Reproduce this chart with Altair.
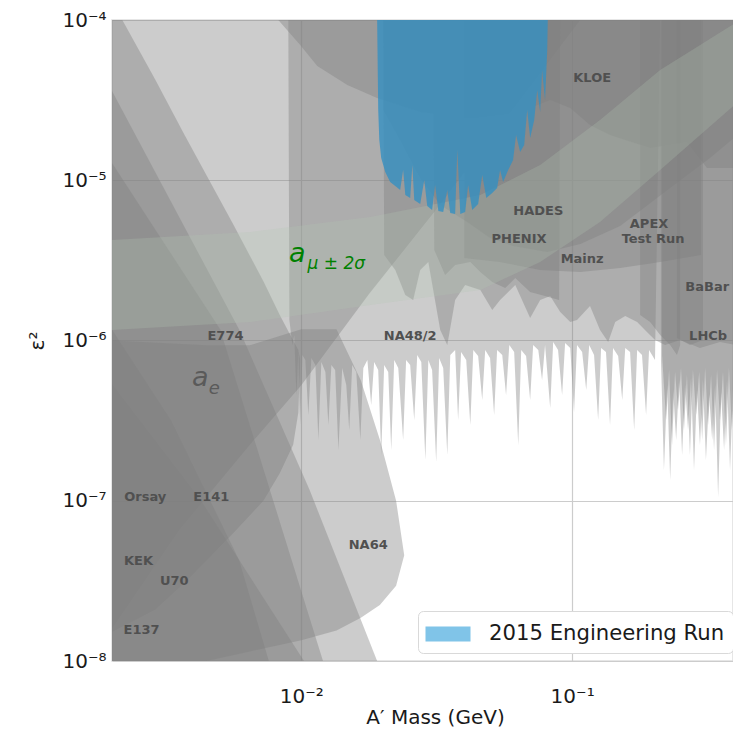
import altair as alt
import pandas as pd

# All values are log10(mass / GeV) and log10(epsilon^2).
TOP = -4.0
BOT = -8.2

AE_M  = [-2.70, -2.45, -2.19, -2.00, -1.75, -1.51, -0.97]
AE_LO = [-7.80, -7.18, -6.65, -6.28, -5.71, -5.20, -4.00]

E774_M  = [-2.70, -2.54, -2.43, -2.25, -2.14, -2.08, -2.03, -2.011, -2.004]
E774_HI = [-3.88, -4.37, -4.72, -5.28, -5.63, -5.84, -6.00, -6.06, -6.12]
E774_LO = [-7.82, -7.68, -7.51, -7.20, -7.00, -6.83, -6.65, -6.45, -6.12]

E141_M  = [-2.70, -2.23, -1.97, -1.72]
E141_HI = [-4.44, -5.93, -6.93, -8.00]

KEK_M  = [-2.70, -2.30, -1.92]
KEK_HI = [-4.89, -5.93, -8.00]

ORSAY_M  = [-2.70, -2.37, -1.99]
ORSAY_HI = [-6.27, -7.00, -8.00]

E137_M  = [-2.70, -2.48, -2.23, -2.12]
E137_HI = [-5.93, -6.50, -7.37, -8.00]

NA64_M  = [-2.70, -2.35, -2.19, -2.00, -1.87, -1.78, -1.71, -1.65, -1.62]
NA64_HI = [-6.00, -6.03, -6.03, -5.93, -5.93, -6.25, -6.62, -7.00, -7.34]
NA64_LO = [-8.20, -8.00, -7.94, -7.87, -7.81, -7.73, -7.65, -7.53, -7.34]

NA48_M = [-2.048, -2.044, -2.033, -2.026, -2.018, -2.011, -2.004, -1.996, -1.985, -1.974,
          -1.963, -1.948, -1.937, -1.926, -1.911, -1.900, -1.889, -1.875, -1.863, -1.849,
          -1.834, -1.823, -1.812, -1.797, -1.782, -1.771, -1.756, -1.742, -1.731, -1.716,
          -1.705, -1.694, -1.679, -1.668, -1.657, -1.642, -1.624, -1.613, -1.598, -1.583,
          -1.572, -1.557, -1.542, -1.531, -1.517, -1.502, -1.491, -1.476, -1.461, -1.450,
          -1.432, -1.421, -1.410, -1.391, -1.376, -1.365, -1.347, -1.332, -1.321, -1.303,
          -1.288, -1.277, -1.258, -1.244, -1.232, -1.214, -1.199, -1.188, -1.170, -1.155,
          -1.144, -1.125, -1.111, -1.100, -1.081, -1.070, -1.052, -1.037, -1.026, -1.007,
          -0.993, -0.982, -0.963, -0.948, -0.937, -0.919, -0.904, -0.893, -0.875, -0.860,
          -0.849, -0.830, -0.815, -0.804, -0.786, -0.771, -0.760, -0.742, -0.727, -0.716,
          -0.694, -0.675]
NA48_LO = [-4.000, -5.872, -6.028, -5.966, -6.340, -6.059, -6.527, -6.090, -6.122, -6.465,
           -6.109, -6.153, -6.621, -6.134, -6.197, -6.527, -6.153, -6.184, -6.683, -6.172,
           -6.278, -6.558, -6.153, -6.197, -6.621, -6.172, -6.122, -6.402, -6.134, -6.184,
           -6.715, -6.153, -6.197, -6.683, -6.122, -6.172, -6.621, -6.122, -6.153, -6.496,
           -6.090, -6.134, -6.746, -6.122, -6.184, -6.758, -6.109, -6.172, -6.715, -6.090,
           -6.059, -6.496, -6.072, -6.122, -6.527, -6.059, -6.097, -6.371, -6.059, -6.109,
           -6.465, -6.059, -6.090, -6.340, -6.028, -6.072, -6.652, -6.059, -6.097, -6.371,
           -6.028, -6.059, -6.246, -6.028, -6.421, -6.009, -6.059, -6.340, -6.016, -6.047,
           -6.446, -6.028, -6.072, -6.309, -6.028, -6.090, -6.496, -6.047, -6.072, -6.527,
           -6.047, -6.097, -6.371, -6.047, -6.072, -6.558, -6.059, -6.090, -6.465, -6.059,
           -6.122, -4.000]

BABAR_M  = [-1.697, -1.694, -1.653, -1.616, -1.587, -1.561, -1.531, -1.487, -1.461, -1.432,
            -1.395, -1.339, -1.295, -1.266, -1.210, -1.185, -1.155, -1.118, -1.081, -1.044,
            -1.007, -0.982, -0.934, -0.897, -0.867, -0.841, -0.804, -0.760, -0.731, -0.694,
            -0.657, -0.601, -0.528, -0.454, -0.380, -0.288]
BABAR_LO = [-4.000, -5.466, -5.560, -5.716, -5.747, -5.560, -5.510, -5.934, -6.028, -5.747,
            -5.654, -5.685, -5.810, -5.747, -5.654, -5.747, -5.860, -5.747, -5.722, -5.822,
            -5.885, -5.872, -5.785, -5.934, -6.009, -5.885, -5.847, -5.885, -5.934, -5.997,
            -6.028, -5.997, -6.047, -6.009, -6.034, -6.028]

PHENIX_M  = [-1.513, -1.509, -1.469, -1.432, -1.376, -1.339, -1.295, -1.247, -1.210, -1.155,
             -1.100, -1.048, -1.044]
PHENIX_LO = [-4.000, -5.435, -5.591, -5.529, -5.510, -5.573, -5.635, -5.672, -5.610, -5.697,
             -5.722, -5.747, -4.000]

HADES_M  = [-1.697, -1.635, -1.561, -1.487, -1.387, -1.303, -1.218, -1.092, -0.970, -0.823,
            -0.638, -0.491, -0.380, -0.288]
HADES_LO = [-4.562, -4.749, -4.986, -5.154, -5.261, -5.360, -5.410, -5.448, -5.398, -5.285,
            -5.048, -4.861, -4.705, -4.612]

KLOE_M  = [-2.085, -2.004, -1.941, -1.830, -1.720, -1.561, -1.376, -1.192, -1.081, -1.007,
           -0.934, -0.860, -0.712, -0.576, -0.502, -0.406, -0.362, -0.288]
KLOE_LO = [-4.000, -4.156, -4.287, -4.406, -4.487, -4.574, -4.612, -4.574, -4.499, -4.549,
           -4.655, -4.718, -4.799, -4.761, -4.924, -4.924, -4.562, -4.312]

MAINZ_M  = [-1.398, -1.266, -1.118, -0.970, -0.823, -0.675, -0.524]
MAINZ_LO = [-5.485, -5.510, -5.560, -5.573, -5.548, -5.510, -5.466]

APEX_M  = [-0.749, -0.712, -0.675, -0.638, -0.613, -0.601]
APEX_LO = [-5.841, -5.885, -5.966, -6.028, -6.090, -6.028]

STRIP_M  = [-0.613, -0.565, -0.517]
STRIP_LO = [-5.984, -6.028, -5.997]

LHCB_M  = [-0.672, -0.661, -0.649, -0.638, -0.627, -0.616, -0.605, -0.594, -0.583, -0.572,
           -0.561, -0.550, -0.539, -0.528, -0.517, -0.506, -0.494, -0.483, -0.472, -0.461,
           -0.450, -0.439, -0.428, -0.417, -0.406, -0.395, -0.384, -0.373, -0.362, -0.288]
LHCB_LO = [-6.122, -6.808, -6.278, -6.870, -6.309, -6.621, -6.246, -6.715, -6.278, -6.558,
           -6.234, -6.808, -6.309, -6.652, -6.246, -6.746, -6.340, -6.621, -6.278, -6.977,
           -6.321, -6.683, -6.246, -6.808, -6.296, -6.964, -6.340, -6.621, -6.278, -6.309]

LHCB2_M  = [-0.668, -0.653, -0.642, -0.631, -0.620, -0.609, -0.598, -0.587, -0.576, -0.565,
            -0.554, -0.542, -0.531, -0.520, -0.509, -0.498, -0.487, -0.476, -0.465, -0.454,
            -0.443, -0.432, -0.421, -0.410, -0.399, -0.380]
LHCB2_LO = [-6.090, -6.496, -6.184, -6.652, -6.197, -6.434, -6.172, -6.558, -6.215, -6.715,
            -6.184, -6.465, -6.197, -6.621, -6.172, -6.527, -6.215, -6.683, -6.184, -6.496,
            -6.197, -6.652, -6.172, -6.558, -6.215, -6.246]

HPS_M  = [-1.720, -1.716, -1.712, -1.705, -1.690, -1.672, -1.653, -1.635, -1.624, -1.616,
          -1.598, -1.590, -1.583, -1.561, -1.546, -1.535, -1.517, -1.506, -1.494, -1.476,
          -1.461, -1.450, -1.432, -1.424, -1.413, -1.395, -1.384, -1.369, -1.347, -1.332,
          -1.317, -1.295, -1.277, -1.266, -1.255, -1.236, -1.218, -1.207, -1.192, -1.177,
          -1.166, -1.155, -1.140, -1.129, -1.118, -1.111, -1.100, -1.092, -1.090]
HPS_LO = [-4.000, -4.562, -4.749, -4.861, -4.949, -5.011, -5.036, -5.061, -4.936, -5.092,
          -5.111, -4.905, -5.123, -5.148, -4.998, -5.161, -5.186, -5.030, -5.192, -5.198,
          -5.061, -5.204, -5.211, -4.811, -5.211, -5.198, -5.030, -5.186, -5.148, -4.967,
          -5.111, -5.080, -5.048, -4.936, -5.011, -4.936, -4.874, -4.718, -4.824, -4.780,
          -4.562, -4.736, -4.624, -4.437, -4.574, -4.312, -4.499, -4.187, -4.000]

AMU_M  = [-2.70, -2.188, -1.745, -1.339, -1.118, -0.897, -0.675, -0.380, -0.303]
AMU_LO = [-5.934, -5.885, -5.778, -5.685, -5.510, -5.260, -4.936, -4.499, -4.406]
AMU_HI = [-5.373, -5.323, -5.229, -5.092, -4.905, -4.624, -4.312, -4.000, -3.906]

EXP_TEXT = ['KLOE', 'HADES', 'PHENIX', 'Mainz', 'APEX', 'Test Run', 'LHCb', 'NA48/2',
            'E774', 'Orsay', 'E141', 'KEK', 'U70', 'E137', 'NA64']
EXP_M = [-0.926, -1.125, -1.196, -0.963, -0.716, -0.701, -0.498, -1.598,
         -2.280, -2.576, -2.332, -2.601, -2.469, -2.590, -1.753]
EXP_E = [-4.362, -5.192, -5.367, -5.491, -5.273, -5.367, -5.972, -5.972,
         -5.972, -6.977, -6.977, -7.376, -7.501, -7.807, -7.276]
BABAR_TEXT_M, BABAR_TEXT_E = -0.582, -5.666

LEGEND_LABEL = '2015 Engineering Run'


def p(v):
    return [10 ** x for x in v]


def region(name, m, lo, hi=None):
    if hi is None:
        hi = [TOP] * len(m)
    return pd.DataFrame({'region': name, 'm': p(m), 'lo': p(lo), 'hi': p(hi)})


gray_df = pd.concat([
    region('a_e', AE_M, AE_LO),
    region('E774', E774_M, E774_LO, E774_HI),
    region('E141', E141_M, [BOT] * len(E141_M), E141_HI),
    region('KEK', KEK_M, [BOT] * len(KEK_M), KEK_HI),
    region('Orsay', ORSAY_M, [BOT] * len(ORSAY_M), ORSAY_HI),
    region('E137', E137_M, [BOT] * len(E137_M), E137_HI),
    region('NA64', NA64_M, NA64_LO, NA64_HI),
    region('NA48/2', NA48_M, NA48_LO),
    region('BaBar', BABAR_M, BABAR_LO),
    region('PHENIX', PHENIX_M, PHENIX_LO),
    region('HADES', HADES_M, HADES_LO),
    region('KLOE', KLOE_M, KLOE_LO),
    region('Mainz', MAINZ_M, MAINZ_LO),
    region('APEX', APEX_M, APEX_LO),
    region('strip', STRIP_M, STRIP_LO),
    region('LHCb', LHCB_M, LHCB_LO),
    region('LHCb2', LHCB2_M, LHCB2_LO),
], ignore_index=True)

amu_df = region('amu', AMU_M, AMU_LO, AMU_HI)
hps_df = region('hps', HPS_M, HPS_LO)
# one point outside the plotted range: only feeds the legend entry
legend_df = pd.DataFrame({'m': [0.001], 'lo': [1e-9], 'label': [LEGEND_LABEL]})

lab_df = pd.DataFrame({'t': EXP_TEXT, 'm': p(EXP_M), 'e': p(EXP_E)})
babar_lab = pd.DataFrame({'t': ['BaBar'], 'm': [10 ** BABAR_TEXT_M], 'e': [10 ** BABAR_TEXT_E]})
ae_a = pd.DataFrame({'t': ['a'], 'm': [10 ** -2.373], 'e': [10 ** -6.234]})
ae_s = pd.DataFrame({'t': ['e'], 'm': [10 ** -2.321], 'e': [10 ** -6.303]})
amu_a = pd.DataFrame({'t': ['a'], 'm': [10 ** -2.015], 'e': [10 ** -5.460]})
amu_s = pd.DataFrame({'t': ['μ ± 2σ'], 'm': [10 ** -1.871], 'e': [10 ** -5.523]})

sup = "['⁰','¹','²','³','⁴','⁵','⁶','⁷','⁸','⁹']"
lab_expr = "'10⁻' + " + sup + "[-round(log(datum.value)/LN10)]"

xs = alt.Scale(type='log', domain=[0.002, 0.3926], nice=False)
ys = alt.Scale(type='log', domain=[1e-8, 1e-4], nice=False)
xaxis = alt.Axis(values=[0.01, 0.1], labelExpr=lab_expr, title='A′ Mass (GeV)',
                 grid=True, ticks=False, tickSize=0, domain=False, labelPadding=25,
                 titlePadding=1, titleX=323, titleAlign='center', labelFlush=False)
yaxis = alt.Axis(values=[1e-8, 1e-7, 1e-6, 1e-5, 1e-4], labelExpr=lab_expr, title='ε²',
                 grid=True, ticks=False, tickSize=0, domain=False, labelPadding=6,
                 titlePadding=14, labelFlush=False)

X = alt.X('m:Q', scale=xs, axis=xaxis)
Y = alt.Y('lo:Q', scale=ys, axis=yaxis, stack=None)

gray = alt.Chart(gray_df).mark_area(color='#808080', opacity=0.4, clip=True).encode(
    x=X, y=Y, y2='hi:Q', detail='region:N')

amu = alt.Chart(amu_df).mark_area(color='#b4c8b4', opacity=0.25, clip=True).encode(
    x=X, y=Y, y2='hi:Q')

hps = alt.Chart(hps_df).mark_area(color='#3590c2', opacity=0.8, clip=True).encode(
    x=X, y=Y, y2='hi:Q')

leg = alt.Chart(legend_df).mark_point(filled=True, opacity=1, clip=True).encode(
    x=X, y=Y,
    color=alt.Color('label:N', scale=alt.Scale(range=['#80c4e8']),
                    legend=alt.Legend(
                        title=None, orient='none', legendX=306, legendY=591,
                        symbolType='M-1.5,-0.5H1.5V0.5H-1.5Z', symbolSize=900,
                        symbolStrokeWidth=0, symbolOpacity=1, symbolOffset=7,
                        labelFontSize=21.2, labelFont='DejaVu Sans', labelColor='#1a1a1a',
                        labelOffset=26, labelLimit=500, fillColor='white',
                        strokeColor='#d9d9d9', cornerRadius=5, padding=8)))

TX = alt.X('m:Q', scale=xs, axis=xaxis)
TY = alt.Y('e:Q', scale=ys, axis=yaxis)

labels = alt.Chart(lab_df).mark_text(fontWeight='bold', fontSize=13, color='#505050',
                                     font='DejaVu Sans').encode(x=TX, y=TY, text='t:N')
babar_t = alt.Chart(babar_lab).mark_text(fontWeight='bold', fontSize=13, color='#505050',
                                         align='left', font='DejaVu Sans').encode(
    x=TX, y=TY, text='t:N')
ae1 = alt.Chart(ae_a).mark_text(fontStyle='italic', fontSize=27, color='#5a5a5a',
                                font='DejaVu Sans').encode(x=TX, y=TY, text='t:N')
ae2 = alt.Chart(ae_s).mark_text(fontStyle='italic', fontSize=18, color='#5a5a5a',
                                font='DejaVu Sans').encode(x=TX, y=TY, text='t:N')
am1 = alt.Chart(amu_a).mark_text(fontStyle='italic', fontSize=27, color='#008000',
                                 font='DejaVu Sans').encode(x=TX, y=TY, text='t:N')
am2 = alt.Chart(amu_s).mark_text(fontStyle='italic', fontSize=17, color='#008000',
                                 font='DejaVu Sans').encode(x=TX, y=TY, text='t:N')

chart = alt.layer(gray, amu, hps, leg, labels, babar_t, ae1, ae2, am1, am2).properties(
    width=621, height=641,
    autosize=alt.AutoSizeParams(type='none'),
    padding={'left': 104, 'top': 12, 'right': 0, 'bottom': 67},
).configure(font='DejaVu Sans').configure_view(
    stroke='#dedede', strokeWidth=1.5
).configure_axis(
    labelFontSize=20, labelColor='#1a1a1a', labelFont='DejaVu Sans',
    titleFontSize=20, titleFontWeight='normal', titleColor='#1a1a1a', titleFont='DejaVu Sans',
    gridColor='#cccccc', gridWidth=1.2
)

chart.save('out.html', embed_options={'renderer': 'svg', 'actions': False})
